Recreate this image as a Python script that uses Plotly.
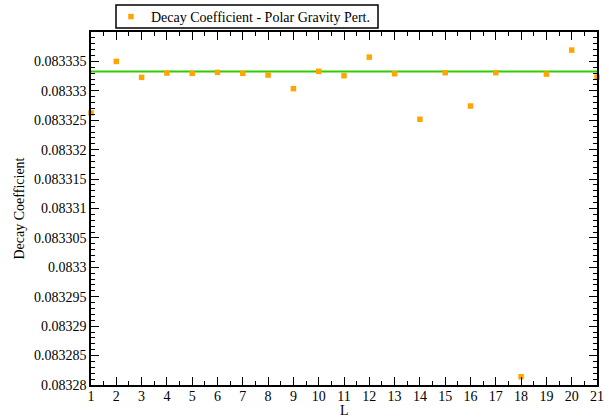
import plotly.graph_objects as go

# Decay coefficient per multipole order L (polar gravitational perturbations)
L_values = list(range(1, 22))
decay_coeff = [
    0.08332624, 0.08333500, 0.08333229, 0.08333302, 0.08333297,
    0.08333314, 0.08333297, 0.08333268, 0.08333037, 0.08333331,
    0.08333257, 0.08333573, 0.08333291, 0.08332517, 0.08333308,
    0.08332742, 0.08333308, 0.08328140, 0.08333285, 0.08333692,
    0.08333234,
]
reference_level = 0.0833333

y_tick_vals = [0.08328, 0.083285, 0.08329, 0.083295, 0.0833, 0.083305,
               0.08331, 0.083315, 0.08332, 0.083325, 0.08333, 0.083335]
y_tick_text = ["0.08328", "0.083285", "0.08329", "0.083295", "0.0833", "0.083305",
               "0.08331", "0.083315", "0.08332", "0.083325", "0.08333", "0.083335"]

FONT = '"Liberation Serif", "Times New Roman", serif'

fig = go.Figure()

fig.add_trace(go.Scatter(
    x=[L_values[0], L_values[-1]],
    y=[reference_level, reference_level],
    mode="lines",
    line=dict(color="rgb(51,204,0)", width=2),
    showlegend=False,
    hoverinfo="skip",
))

fig.add_trace(go.Scatter(
    x=L_values,
    y=decay_coeff,
    mode="markers",
    marker=dict(symbol="square", size=5.5, color="#FFA500"),
    name="Decay Coefficient - Polar Gravity Pert.",
    cliponaxis=False,
))

axis_common = dict(
    showline=True, linecolor="black", linewidth=1.5, mirror="allticks",
    ticks="inside", ticklen=8, tickwidth=1, tickcolor="black",
    showgrid=False, zeroline=False, automargin=False,
    tickfont=dict(family=FONT, size=14, color="black"),
)

fig.update_xaxes(
    range=[1, 21], tickmode="linear", tick0=1, dtick=1, ticklabelstandoff=-3,
    minor=dict(dtick=0.5, tick0=1, ticklen=4, ticks="inside", tickcolor="black", showgrid=False),
    **axis_common,
)
fig.update_yaxes(
    range=[0.08328, 0.08334], tickmode="array", tickvals=y_tick_vals, ticktext=y_tick_text,
    minor=dict(dtick=0.000001, tick0=0.08328, ticklen=4, ticks="inside", tickcolor="black", showgrid=False),
    title=dict(text="Decay Coefficient", font=dict(family=FONT, size=14, color="black"), standoff=6),
    **axis_common,
)

# x-axis title, set just below the tick labels
fig.add_annotation(
    text="L", xref="paper", yref="paper", x=0.5, y=-0.0950,
    xanchor="center", yanchor="bottom", showarrow=False, borderpad=0,
    font=dict(family=FONT, size=14, color="black"),
)

# Framed legend box above the plot area
fig.add_shape(
    type="rect", xref="paper", yref="paper",
    x0=0.0494, x1=0.5672, y0=1.0113, y1=1.0765,
    line=dict(color="black", width=1.5), fillcolor="white", layer="below",
)

fig.update_layout(
    width=609, height=417,
    margin=dict(l=91, r=12, t=32, b=32, pad=0, autoexpand=False),
    paper_bgcolor="white", plot_bgcolor="white",
    font=dict(family=FONT, size=14, color="black"),
    legend=dict(
        x=0.0395, y=1.0878, xanchor="left", yanchor="top",
        borderwidth=0, bgcolor="rgba(0,0,0,0)",
        font=dict(family=FONT, size=14, color="black"),
        itemwidth=30, tracegroupgap=0,
    ),
)

fig.write_html("out.html")
